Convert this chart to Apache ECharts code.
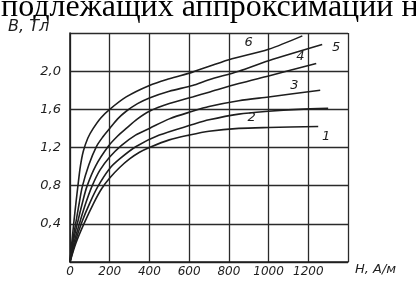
<!DOCTYPE html>
<html><head><meta charset="utf-8">
<script src="https://cdn.jsdelivr.net/npm/echarts@6/dist/echarts.min.js"></script>
<style>html,body{margin:0;padding:0;background:#fff}#c{width:416px;height:284px}</style>
</head><body><div id="c"></div>
<script>
// Magnetization curves B(H)
const curve1 = [[0,0],[30,0.2],[70,0.4],[120,0.62],[160,0.77],[200,0.88],[250,0.99],[300,1.08],[350,1.15],[400,1.2],[500,1.28],[600,1.33],[700,1.37],[850,1.4],[1000,1.41],[1250,1.42]];
const curve2 = [[0,0],[25,0.2],[60,0.42],[100,0.62],[140,0.79],[200,0.98],[250,1.08],[333,1.21],[450,1.33],[617,1.44],[700,1.49],[850,1.55],[1000,1.58],[1150,1.6],[1300,1.61]];
const curve3 = [[0,0],[20,0.2],[50,0.42],[80,0.62],[110,0.79],[150,0.96],[200,1.1],[258,1.22],[330,1.33],[400,1.4],[500,1.5],[617,1.58],[700,1.63],[850,1.69],[1000,1.73],[1260,1.8]];
const curve4 = [[0,0],[15,0.2],[40,0.43],[60,0.6],[85,0.79],[130,1.01],[192,1.21],[240,1.32],[283,1.4],[340,1.5],[400,1.58],[500,1.66],[617,1.73],[700,1.78],[850,1.87],[1000,1.95],[1240,2.08]];
const curve5 = [[0,0],[12,0.2],[30,0.42],[45,0.6],[62,0.79],[95,1.02],[133,1.21],[165,1.31],[200,1.4],[240,1.5],[283,1.58],[340,1.66],[400,1.72],[500,1.79],[617,1.85],[700,1.91],[850,2.0],[1000,2.11],[1270,2.28]];
const curve6 = [[0,0],[10,0.22],[20,0.43],[30,0.62],[40,0.8],[52,1.0],[67,1.16],[90,1.3],[117,1.4],[155,1.51],[200,1.6],[283,1.73],[400,1.85],[500,1.92],[617,1.99],[800,2.12],[1000,2.23],[1170,2.37]];
const curves = [curve1, curve2, curve3, curve4, curve5, curve6];
const curveNames = ['1','2','3','4','5','6'];
// label anchor points in data units (H, B)
const labelPos = [[1290,1.31],[915,1.51],[1130,1.85],[1160,2.15],[1340,2.25],[900,2.30]];
const xTicks = [0,200,400,600,800,1000,1200];
const yTickLabels = {0.4:'0,4',0.8:'0,8',1.2:'1,2',1.6:'1,6',2:'2,0'};

const ink = '#1e1e1e';
const font = 'DejaVu Sans';
const chart = echarts.init(document.getElementById('c'), null, {renderer:'canvas'});
chart.setOption({
  animation:false,
  backgroundColor:'#fff',
  grid:{left:70,right:68,top:33,bottom:22},
  xAxis:{type:'value',min:0,max:1400,interval:200,
    axisLine:{show:true,lineStyle:{color:ink,width:1.6}},
    axisTick:{show:false},
    splitLine:{show:true,lineStyle:{color:'#2a2a2a',width:1.3}},
    axisLabel:{margin:4,color:ink,fontFamily:font,fontStyle:'italic',fontSize:12,
      formatter:v=>xTicks.includes(v)?String(v):''}},
  yAxis:{type:'value',min:0,max:2.4,interval:0.4,
    axisLine:{show:true,lineStyle:{color:ink,width:1.6}},
    axisTick:{show:false},
    splitLine:{show:true,lineStyle:{color:'#2a2a2a',width:1.3}},
    axisLabel:{margin:9,color:ink,fontFamily:font,fontStyle:'italic',fontSize:13,
      formatter:v=>{const k=Math.round(v*10)/10;return yTickLabels[k]||'';}}},
  series: curves.map((d,i)=>({
    type:'line',name:curveNames[i],data:d,smooth:0.3,showSymbol:false,
    lineStyle:{color:ink,width:1.6},
    markPoint:{symbol:'circle',symbolSize:0,silent:true,
      label:{show:true,color:ink,fontFamily:font,fontStyle:'italic',fontSize:13,formatter:curveNames[i]},
      data:[{coord:labelPos[i]}]}
  })),
  graphic:[
    {type:'text',left:1,top:-8,style:{text:'подлежащих аппроксимации н',font:'32px "Liberation Serif"',fill:'#000'}},
    {type:'text',left:8,top:19,style:{text:'B, Тл',font:'italic 16px "DejaVu Sans"',fill:ink}},
    {type:'text',left:355,top:263,style:{text:'H, А/м',font:'italic 13px "DejaVu Sans"',fill:ink}}
  ]
});
</script></body></html>
